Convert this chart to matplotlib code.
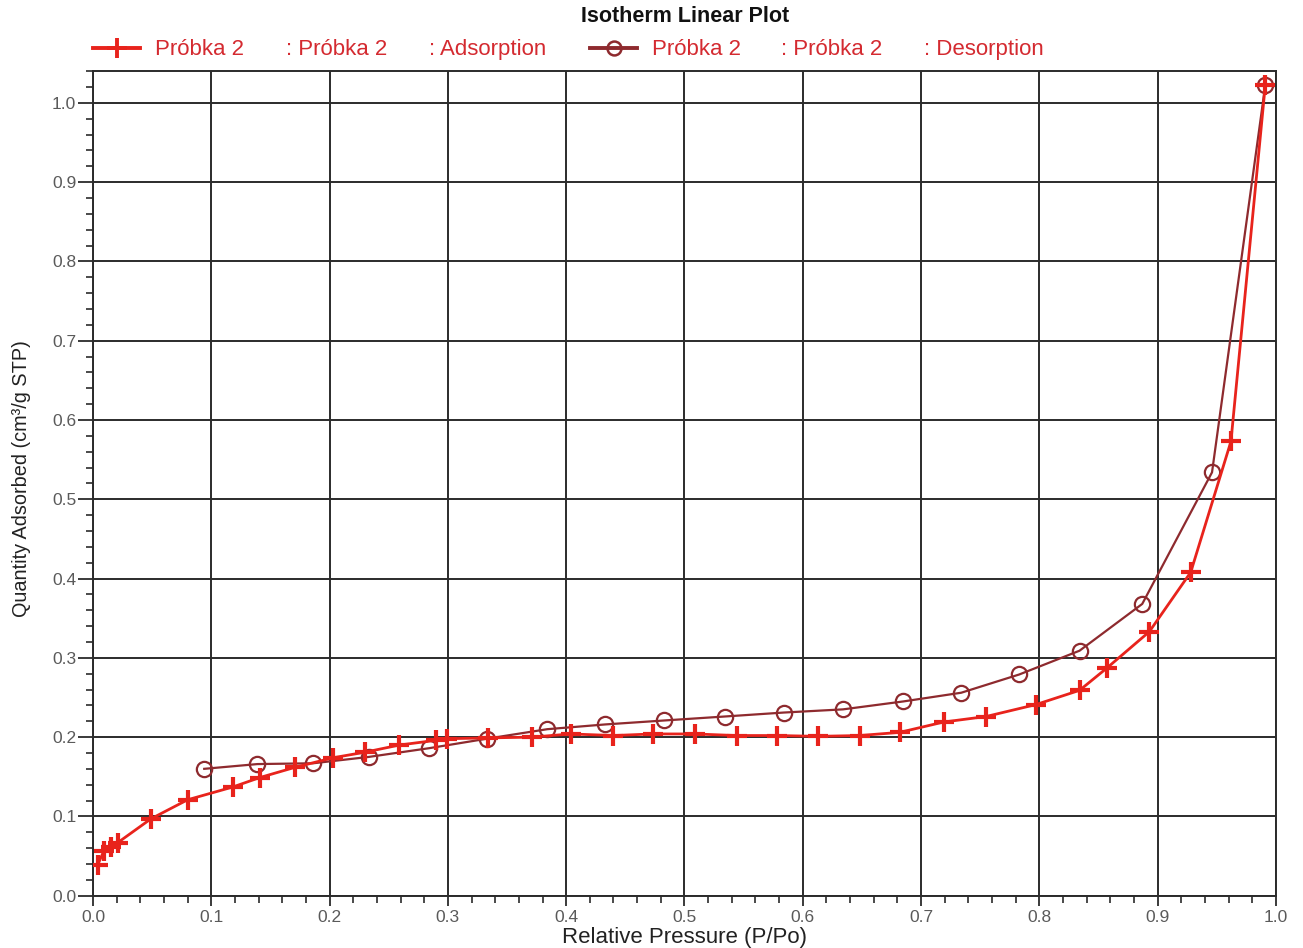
import matplotlib
matplotlib.use("Agg")
import matplotlib.pyplot as plt
from matplotlib.ticker import MultipleLocator
from matplotlib.lines import Line2D

plt.rcParams['font.family'] = ['Liberation Sans', 'DejaVu Sans']

# Adsorption branch (relative pressure, quantity adsorbed)
ads_p = [0.004, 0.009, 0.015, 0.021, 0.049, 0.080, 0.118, 0.141, 0.171, 0.203,
         0.230, 0.259, 0.290, 0.299, 0.334, 0.371, 0.404, 0.440, 0.473, 0.509,
         0.544, 0.578, 0.613, 0.648, 0.682, 0.719, 0.755, 0.797, 0.834, 0.857,
         0.893, 0.928, 0.962, 0.991]
ads_q = [0.039, 0.056, 0.061, 0.067, 0.097, 0.121, 0.137, 0.149, 0.162, 0.174,
         0.181, 0.190, 0.196, 0.198, 0.199, 0.200, 0.204, 0.202, 0.204, 0.204,
         0.202, 0.202, 0.201, 0.202, 0.206, 0.219, 0.226, 0.241, 0.259, 0.287,
         0.333, 0.408, 0.573, 1.022]

# Desorption branch
des_p = [0.991, 0.946, 0.887, 0.834, 0.783, 0.734, 0.685, 0.634, 0.584, 0.534,
         0.483, 0.433, 0.384, 0.333, 0.284, 0.233, 0.186, 0.139, 0.094]
des_q = [1.022, 0.534, 0.368, 0.309, 0.279, 0.256, 0.245, 0.235, 0.231, 0.226,
         0.221, 0.216, 0.210, 0.198, 0.186, 0.175, 0.167, 0.166, 0.160]

ads_parts = ["Próbka 2", ": Próbka 2", ": Adsorption"]
des_parts = ["Próbka 2", ": Próbka 2", ": Desorption"]

ADS_COLOR = "#e8231c"
DES_COLOR = "#8e2a2e"
LEGEND_TEXT = "#d42a30"
GRID_COLOR = "#2b2b2b"
TICK_LABEL_COLOR = "#5a5a5a"

W, H = 1303, 948
fig = plt.figure(figsize=(W / 100, H / 100), dpi=100)
ax = fig.add_axes([0.0714, 0.0552, 0.9078, 0.8697])

ax.plot(des_p, des_q, color=DES_COLOR, lw=1.6, marker='o', ms=11,
        mfc='none', mec=DES_COLOR, mew=1.6, zorder=3)
ax.plot(ads_p, ads_q, color=ADS_COLOR, lw=2.0, marker='+', ms=15,
        mew=3.0, mec=ADS_COLOR, zorder=4)

ax.set_xlim(0, 1.0)
ax.set_ylim(0, 1.04)
ax.xaxis.set_major_locator(MultipleLocator(0.1))
ax.xaxis.set_minor_locator(MultipleLocator(0.02))
ax.yaxis.set_major_locator(MultipleLocator(0.1))
ax.yaxis.set_minor_locator(MultipleLocator(0.02))
ax.xaxis.set_major_formatter(plt.FuncFormatter(lambda v, _: f"{v:.1f}"))
ax.yaxis.set_major_formatter(plt.FuncFormatter(lambda v, _: f"{v:.1f}"))

ax.grid(True, which='major', color=GRID_COLOR, lw=1.4)
ax.set_axisbelow(True)
for s in ax.spines.values():
    s.set_color(GRID_COLOR)
    s.set_linewidth(1.4)

ax.tick_params(axis='y', which='major', direction='out', length=11, width=1.3,
               color=GRID_COLOR, labelsize=12.5, labelcolor=TICK_LABEL_COLOR, pad=1)
ax.tick_params(axis='y', which='minor', direction='out', length=5, width=1.2,
               color=GRID_COLOR)
ax.tick_params(axis='x', which='major', direction='out', length=7, width=1.3,
               color=GRID_COLOR, labelsize=12.5, labelcolor=TICK_LABEL_COLOR, pad=3)
ax.tick_params(axis='x', which='minor', direction='out', length=5, width=1.2,
               color=GRID_COLOR)

# Axis titles and chart title
fig.text(685 / W, 1 - 938 / H, "Relative Pressure (P/Po)", ha='center',
         va='center', fontsize=16, color="#222222")
fig.text(22 / W, 1 - 479 / H, "Quantity Adsorbed (cm³/g STP)", ha='center',
         va='center', rotation=90, fontsize=14.3, color="#222222")
fig.text(685 / W, 1 - 16 / H, "Isotherm Linear Plot", ha='center',
         va='center', fontsize=15.5, fontweight='bold', color="#111111")

# Legend row: handle followed by the three label parts
legend_y = 1 - 48 / H
legend_baseline = 1 - 55 / H


def legend_entry(x0, color, marker, ms, mew, mfc, parts, text_x):
    fig.add_artist(Line2D([x0 / W, (x0 + 47) / W], [legend_y, legend_y],
                          transform=fig.transFigure, color=color, lw=2.8))
    fig.add_artist(Line2D([(x0 + 23.5) / W], [legend_y],
                          transform=fig.transFigure, color=color, marker=marker,
                          ms=ms, mew=mew, mfc=mfc, mec=color, lw=0))
    for txt, tx in zip(parts, text_x):
        fig.text(tx / W, legend_baseline, txt, ha='left', va='baseline',
                 fontsize=16, color=LEGEND_TEXT)


legend_entry(93, ADS_COLOR, '+', 15, 2.8, ADS_COLOR, ads_parts, [155, 286, 429])
legend_entry(590, DES_COLOR, 'o', 10, 1.8, 'none', des_parts, [652, 781, 924])

fig.savefig("out.png", dpi=100, facecolor='white')
